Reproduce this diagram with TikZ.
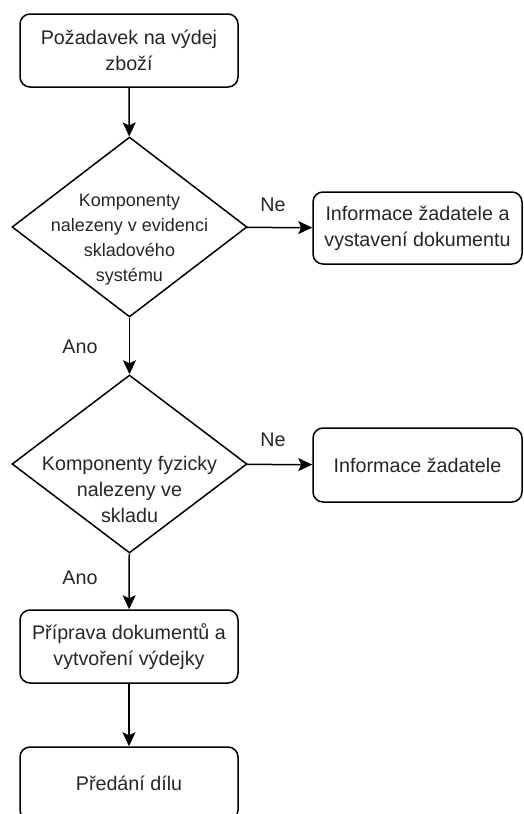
\documentclass[tikz,border=0pt]{standalone}
\usepackage{fontspec}
\setmainfont{Liberation Sans}
\usetikzlibrary{shapes.geometric,arrows.meta}

\begin{document}
\begin{tikzpicture}[x=1pt,y=-1pt,
    krok/.style={draw, line width=1.5pt, rounded corners=10pt, align=center, minimum width=218pt, minimum height=73pt, inner sep=0pt, font=\fontsize{19.7}{26}\selectfont, text=black!85},
    rozhod/.style={draw, line width=1.5pt, diamond, minimum width=235pt, minimum height=180pt, inner sep=0pt},
    rtext/.style={align=center, font=\fontsize{19.7}{26}\selectfont, text=black!85},
    popis/.style={font=\fontsize{19.7}{24}\selectfont, text=black!85},
    sipka/.style={line width=1.5pt, -{Stealth[length=14pt,width=13pt,inset=3pt]}}]
        \useasboundingbox (0,0) rectangle (523,814);

        \node[krok] (pozadavek) at (129,50.5) {Požadavek na výdej\\zboží};
        \node[rozhod] (evidence) at (129.5,227) {};
        \node[rtext, font=\fontsize{18}{25}\selectfont] (evidencetxt) at (129.5,240) {Komponenty\\nalezeny v evidenci\\skladového\\systému};
        \node[krok, minimum width=209pt, minimum height=72pt] (info1) at (417.5,228) {Informace žadatele a\\vystavení dokumentu};
        \node[rozhod, minimum height=178pt] (sklad) at (129.5,464) {};
        \node[rtext] (skladtxt) at (129.5,489) {Komponenty fyzicky\\nalezeny ve\\skladu};
        \node[krok, minimum width=209pt, minimum height=74pt] (info2) at (417.5,465) {Informace žadatele};
        \node[krok] (priprava) at (129,646.5) {Příprava dokumentů a\\vytvoření výdejky};
        \node[krok] (predani) at (129,783.5) {Předání dílu};

        \draw[sipka] (pozadavek) -- (evidence);
        \draw[sipka] (evidence) -- (info1);
        \draw[sipka] (evidence) -- (sklad);
        \draw[sipka] (sklad) -- (info2);
        \draw[sipka] (sklad) -- (priprava);
        \draw[sipka] (priprava) -- (predani);

        \node[popis] (ne1) at (273,205) {Ne};
        \node[popis] (ano1) at (80,347) {Ano};
        \node[popis] (ne2) at (273,440) {Ne};
        \node[popis] (ano2) at (80,578) {Ano};
    \end{tikzpicture}
\end{document}
